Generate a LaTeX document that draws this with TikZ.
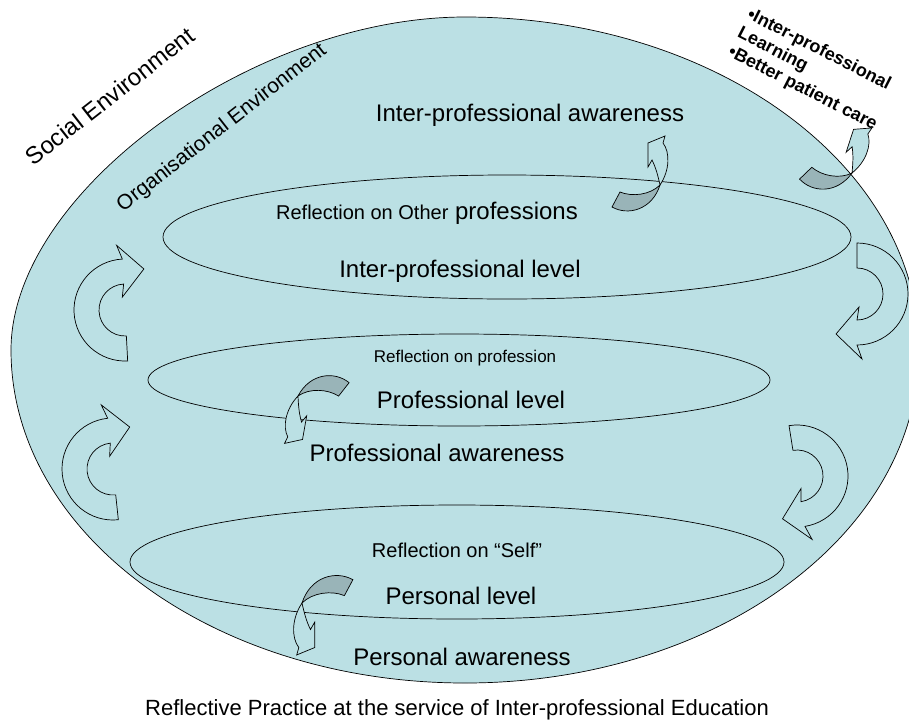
\documentclass[tikz,border=0pt]{standalone}
\usepackage{fontspec}
\setmainfont{Liberation Sans}
\usepackage{xcolor}
\usepackage{tikz}

\definecolor{bgblue}{RGB}{187,224,228}
\definecolor{foldgray}{RGB}{153,180,184}

\tikzset{
  curl/.pic={
    \draw[fill=bgblue] (0,51) arc[start angle=90,end angle=270,radius=51]
      -- (-5,-65) -- (21,-40) -- (-2,-13) -- (0,-26)
      arc[start angle=270,end angle=90,radius=26] -- cycle;
  },
  twist/.pic={
    \draw[fill=foldgray] (-48,22) .. controls (-32,31) and (-8,25) .. (0,0)
      .. controls (-10,10) and (-28,12) .. (-40,7) -- cycle;
    \draw[fill=bgblue] (0,0) .. controls (10,-15) and (10,-33) .. (3,-42)
      -- (5,-49) -- (-12,-42) -- (-12,-18) -- (-8,-25)
      .. controls (-4,-17) and (-2,-9) .. (0,0) -- cycle;
  }
}

\begin{document}
\begin{tikzpicture}[x=1pt, y=-1pt, line width=0.7pt]
\useasboundingbox (0,0) rectangle (909,723);
\draw[fill=bgblue] (11,350) .. controls (11,193) and (252,17) .. (465,17)
    .. controls (716,17) and (919,166) .. (919,350)
    .. controls (919,534) and (716,683) .. (465,683)
    .. controls (214,683) and (11,534) .. (11,350) -- cycle;
\draw (507,237) ellipse [x radius=344, y radius=62];
\draw (459,380) ellipse [x radius=311, y radius=46];
\draw (457,562) ellipse [x radius=327, y radius=57];

\begin{scope}[every node/.style={inner sep=0pt, font=\fontsize{24}{28}\selectfont}]
    \node (social) at (110,96) [rotate=38] {Social Environment};
    \node (orga) at (222,128) [rotate=38, font=\fontsize{21}{25}\selectfont] {Organisational Environment};
    \node (awinter) at (530,115) {Inter-professional awareness};
    \node (reflother) at (427,213) {{\fontsize{20}{24}\selectfont Reflection on Other} professions};
    \node (lvlinter) at (460,271) {Inter-professional level};
    \node (reflprof) at (465,358) [font=\fontsize{17}{20}\selectfont] {Reflection on profession};
    \node (lvlprof) at (471,400) {Professional level};
    \node (awprof) at (437,453) {Professional awareness};
    \node (reflself) at (457,550) [font=\fontsize{20}{24}\selectfont] {Reflection on “Self”};
    \node (lvlpers) at (461,596) {Personal level};
    \node (awpers) at (462,657) {Personal awareness};
    \node (caption) at (457,710) [font=\fontsize{22}{26}\selectfont] {Reflective Practice at the service of Inter-professional Education};
    \node (outcome) at (812,70) [rotate=-27, align=left, font=\bfseries\fontsize{18}{21}\selectfont]
        {•Inter-professional\\Learning\\•Better patient care};
\end{scope}

\pic[rotate=3] at (125,310) {curl};
\pic[rotate=6] at (113,469) {curl};
\pic[rotate=180] at (857,294) {curl};
\pic[rotate=189] at (797,476) {curl};

\pic at (660,185) {twist};
\pic[rotate=-18] at (852,173) {twist};
\pic[rotate=170] at (298,396) {twist};
\pic[rotate=180, scale=1.06] at (302,603) {twist};
\end{tikzpicture}
\end{document}
